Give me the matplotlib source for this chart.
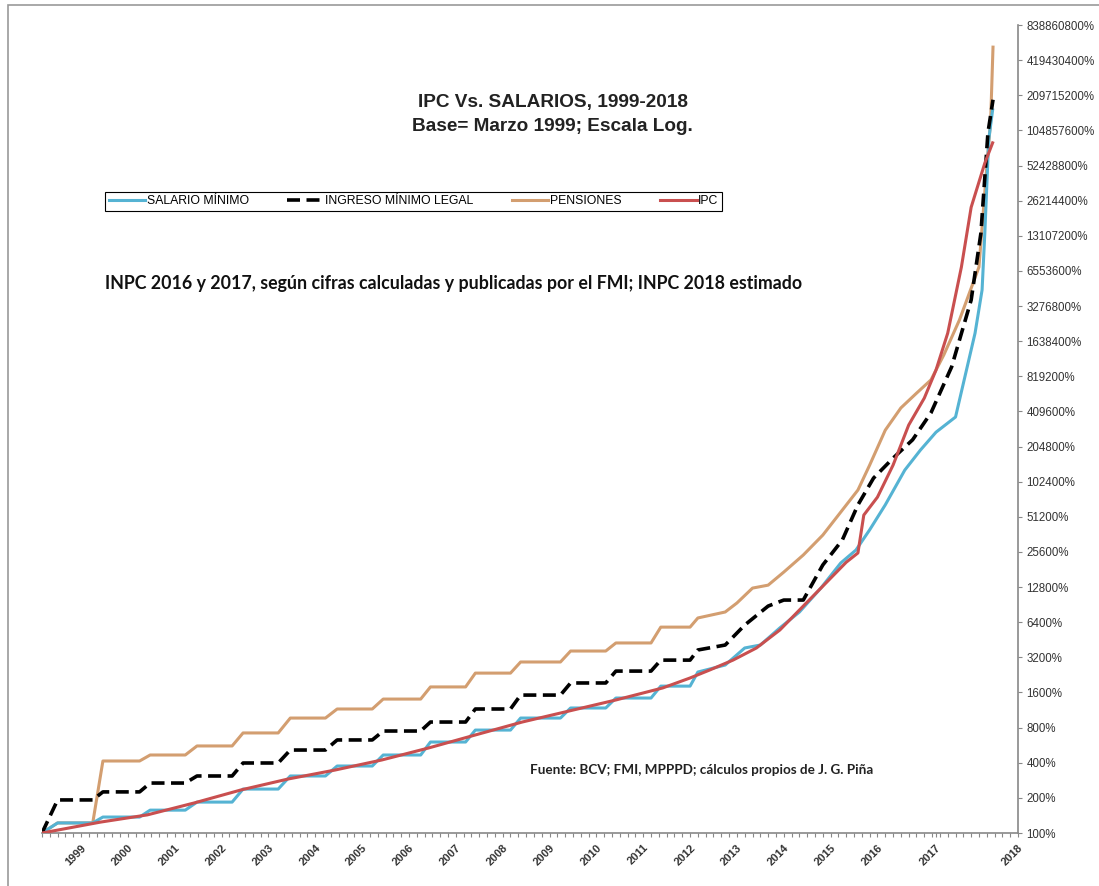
import matplotlib.pyplot as plt
from matplotlib.patches import Rectangle
from matplotlib.ticker import FixedLocator, MultipleLocator, FuncFormatter

# eje x: meses desde marzo 1999
sal_x = [0, 4, 13, 15.6, 25, 27.7, 36.7, 39.7, 48.7, 51.5, 60.5, 63.6, 72.6, 75.6, 84.6,
         87.4, 97, 99.5, 108.5, 111, 120, 122.6, 132.8, 135.4, 144.4, 147, 156, 158.5, 166,
         168, 175, 180, 184, 189, 194, 199.5, 204.6, 208.5, 212, 216, 221, 225, 229, 234,
         239, 240.8, 241.5, 242.5, 243.5]
sal_y = [100, 122, 122, 137, 137, 157, 157, 184, 184, 238, 238, 308, 308, 375, 375,
         466, 466, 602, 602, 762, 762, 966, 966, 1178, 1178, 1434, 1434, 1814, 1814,
         2395, 2750, 3850, 4080, 5720, 7820, 12550, 20600, 26600, 39600, 64800, 128700,
         191000, 272000, 367000, 1920000, 4500000, 13800000, 87000000, 157000000]

ing_x = [0, 4, 13, 15.6, 25, 27.7, 36.7, 39.7, 48.7, 51.5, 60.5, 63.6, 72.6, 75.6, 84.6,
         87.4, 97, 99.5, 108.5, 111, 120, 122.6, 132.8, 135.4, 144.4, 147, 156, 158.5, 166,
         168, 175, 180, 186, 190, 195, 200, 205, 209, 213, 218, 223, 227.7, 233, 238,
         240.5, 242.3, 243.6]
ing_y = [100, 192, 192, 225, 225, 268, 268, 308, 308, 398, 398, 514, 514, 627, 627,
         748, 748, 893, 893, 1155, 1155, 1520, 1520, 1930, 1930, 2440, 2440, 3030, 3030,
         3700, 4080, 6050, 8800, 9910, 9910, 19800, 32400, 64800, 110000, 163000, 234000,
         398000, 987000, 3690000, 13800000, 100000000, 192000000]

pen_x = [0, 4, 13, 15.6, 25, 27.7, 36.7, 39.7, 48.7, 51.5, 60.5, 63.6, 72.6, 75.6, 84.6,
         87.4, 97, 99.5, 108.5, 111, 120, 122.6, 132.8, 135.4, 144.4, 147, 156, 158.5, 166,
         168, 175, 178, 182, 186, 190, 195, 200, 205, 209, 212, 216, 220, 224, 227.7, 231,
         235, 240, 242, 243, 243.6]
pen_y = [100, 122, 122, 414, 414, 466, 466, 557, 557, 720, 720, 966, 966, 1155, 1155,
         1405, 1405, 1785, 1785, 2345, 2345, 2920, 2920, 3625, 3625, 4250, 4250, 5810, 5810,
         6960, 7830, 9350, 12550, 13300, 17200, 24100, 35700, 58500, 86900, 142000, 283000,
         439000, 587000, 763000, 1250000, 2490000, 7070000, 51000000, 129000000, 542000000]

ipc_x = [0, 15, 27, 39, 51, 63, 75, 87, 99, 111, 123, 135, 147, 159, 166, 171, 177, 183,
         189, 195, 201, 206, 209, 210.5, 214, 218, 222, 226, 229, 232, 235.5, 238, 241.5,
         243.5]
ipc_y = [100, 124, 143, 181, 234, 290, 346, 422, 535, 692, 893, 1110, 1380, 1750, 2130,
         2490, 3030, 3850, 5490, 8800, 14100, 20900, 25100, 53000, 75500, 142000, 313000,
         533000, 928000, 1920000, 7070000, 23000000, 55000000, 82000000]

anios = ['1999', '2000', '2001', '2002', '2003', '2004', '2005', '2006', '2007', '2008',
         '2009', '2010', '2011', '2012', '2013', '2014', '2015', '2016', '2017', '2018']
anios_pos = [10, 22, 34, 46, 58, 70, 82, 94, 106, 118, 130, 142, 154, 166, 178, 190,
             202, 214, 229, 250]

plt.rcParams['font.family'] = ['Liberation Sans', 'DejaVu Sans']

fig = plt.figure(figsize=(10.99, 8.86), dpi=100)
ax = fig.add_axes([42 / 1099, 1 - 833 / 886, 976 / 1099, 808 / 886])

ax.plot(sal_x, sal_y, color='#55B3D3', lw=2.2, label='SALARIO MÍNIMO', zorder=3)
ax.plot(ing_x, ing_y, color='black', lw=2.6, ls=(0, (3.6, 1.8)), label='INGRESO MÍNIMO LEGAL', zorder=4)
ax.plot(pen_x, pen_y, color='#D39E70', lw=2.2, label='PENSIONES', zorder=2)
ax.plot(ipc_x, ipc_y, color='#C94F4F', lw=2.2, label='IPC', zorder=5)

ax.set_yscale('log', base=2)
ax.set_ylim(100, 838860800)
ax.set_xlim(0, 250)

ax.yaxis.tick_right()
ax.yaxis.set_major_locator(FixedLocator([100 * 2 ** k for k in range(24)]))
ax.yaxis.set_minor_locator(FixedLocator([]))
ax.yaxis.set_major_formatter(FuncFormatter(lambda v, p: f'{int(round(v))}%'))
ax.tick_params(axis='y', which='major', direction='out', length=3, width=0.8,
               color='#888888', labelsize=8.3, labelcolor='#333333', pad=3)

ax.xaxis.set_major_locator(FixedLocator(anios_pos))
ax.set_xticklabels(anios, rotation=45, ha='right', va='top', rotation_mode='anchor',
                   fontweight='bold')
ax.xaxis.set_minor_locator(MultipleLocator(2))
ax.tick_params(axis='x', which='both', direction='out', length=3, width=0.8,
               color='#888888', labelsize=8, labelcolor='#333333', pad=4)

for s in ['left', 'top']:
    ax.spines[s].set_visible(False)
for s in ['right', 'bottom']:
    ax.spines[s].set_color('#888888')
    ax.spines[s].set_linewidth(1.2)

leg = ax.legend(loc='lower left', bbox_to_anchor=(0.0645, 0.770, 0.632, 0.026),
                mode='expand', ncol=4, borderaxespad=0, fancybox=False,
                edgecolor='black', framealpha=1, fontsize=8.8, handlelength=3.0,
                handletextpad=0.1, borderpad=0.3)
leg.get_frame().set_linewidth(0.8)

fig.text(0.503, 0.884, 'IPC Vs. SALARIOS, 1999-2018', ha='center', va='center',
         fontsize=13.7, fontweight='bold', color='#222222')
fig.text(0.503, 0.857, 'Base= Marzo 1999; Escala Log.', ha='center', va='center',
         fontsize=13.7, fontweight='bold', color='#222222')
fig.text(105 / 1099, 1 - 283 / 886,
         'INPC 2016 y 2017, según cifras calculadas y publicadas por el FMI; INPC 2018 estimado',
         ha='left', va='center', fontsize=12.8, fontweight='bold', family='Lato', color='#111111')
fig.text(530 / 1099, 1 - 770 / 886,
         'Fuente: BCV; FMI, MPPPD; cálculos propios de J. G. Piña',
         ha='left', va='center', fontsize=9.7, fontweight='bold', family='Lato', color='#222222')

# marco exterior
fig.patches.append(Rectangle((8 / 1099, -0.01), 1.1, 1 - 5 / 886 + 0.01, transform=fig.transFigure,
                             fill=False, edgecolor='#999999', lw=1.2))

fig.savefig('out.png', dpi=100)
